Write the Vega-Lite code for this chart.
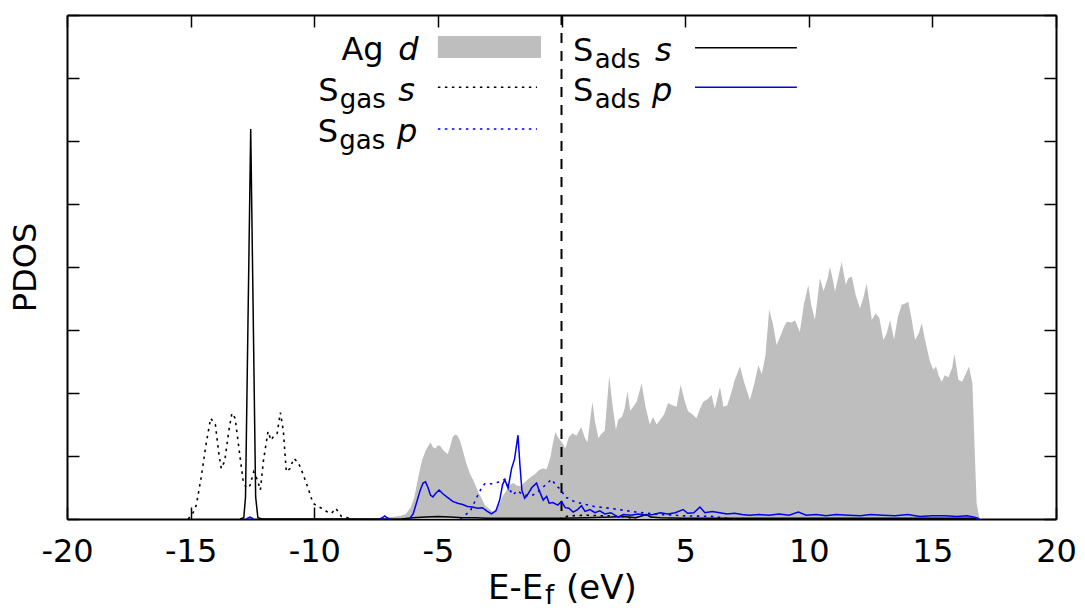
{
  "$schema": "https://vega.github.io/schema/vega-lite/v6.json",
  "width": 989,
  "height": 504,
  "autosize": {"type": "none"},
  "padding": {"left": 67, "top": 15, "right": 29, "bottom": 91},
  "config": {
    "view": {"stroke": null},
    "font": "DejaVu Sans",
    "text": {"font": "DejaVu Sans", "color": "black", "baseline": "alphabetic", "align": "left"}
  },
  "datasets": {
    "agd": [
      {"E": -7.4, "v": 0}, {"E": -7.1, "v": 0.02}, {"E": -6.9, "v": 0.03}, {"E": -6.7, "v": 0.04},
      {"E": -6.5, "v": 0.05}, {"E": -6.3, "v": 0.08}, {"E": -6.1, "v": 0.18}, {"E": -5.95, "v": 0.35},
      {"E": -5.8, "v": 0.65}, {"E": -5.65, "v": 0.92}, {"E": -5.5, "v": 1.08}, {"E": -5.4, "v": 1.15},
      {"E": -5.3, "v": 1.22}, {"E": -5.2, "v": 1.14}, {"E": -5.1, "v": 1.12}, {"E": -5.0, "v": 1.17},
      {"E": -4.9, "v": 1.16}, {"E": -4.8, "v": 1.1}, {"E": -4.7, "v": 1.06}, {"E": -4.6, "v": 1.03},
      {"E": -4.5, "v": 1.15}, {"E": -4.4, "v": 1.3}, {"E": -4.3, "v": 1.34}, {"E": -4.2, "v": 1.32},
      {"E": -4.1, "v": 1.24}, {"E": -4.0, "v": 1.1}, {"E": -3.85, "v": 0.88}, {"E": -3.7, "v": 0.72},
      {"E": -3.55, "v": 0.6}, {"E": -3.4, "v": 0.46}, {"E": -3.25, "v": 0.34}, {"E": -3.1, "v": 0.22},
      {"E": -2.95, "v": 0.17}, {"E": -2.8, "v": 0.12}, {"E": -2.65, "v": 0.16}, {"E": -2.5, "v": 0.25},
      {"E": -2.35, "v": 0.38}, {"E": -2.2, "v": 0.47}, {"E": -2.05, "v": 0.55}, {"E": -1.95, "v": 0.57},
      {"E": -1.8, "v": 0.53}, {"E": -1.65, "v": 0.52}, {"E": -1.5, "v": 0.58}, {"E": -1.35, "v": 0.63},
      {"E": -1.2, "v": 0.68}, {"E": -1.05, "v": 0.72}, {"E": -0.9, "v": 0.78}, {"E": -0.75, "v": 0.8},
      {"E": -0.6, "v": 0.79}, {"E": -0.45, "v": 0.98}, {"E": -0.35, "v": 1.2}, {"E": -0.25, "v": 1.38},
      {"E": -0.15, "v": 1.3}, {"E": -0.05, "v": 1.25}, {"E": 0.05, "v": 1.2}, {"E": 0.15, "v": 1.12},
      {"E": 0.3, "v": 1.3}, {"E": 0.45, "v": 1.36}, {"E": 0.6, "v": 1.32}, {"E": 0.8, "v": 1.46},
      {"E": 0.95, "v": 1.28}, {"E": 1.05, "v": 1.22}, {"E": 1.25, "v": 1.86}, {"E": 1.35, "v": 1.55},
      {"E": 1.5, "v": 1.28}, {"E": 1.6, "v": 1.35}, {"E": 1.75, "v": 1.4}, {"E": 1.93, "v": 2.27},
      {"E": 2.05, "v": 1.85}, {"E": 2.2, "v": 1.42}, {"E": 2.3, "v": 1.58}, {"E": 2.45, "v": 1.62},
      {"E": 2.55, "v": 1.75}, {"E": 2.67, "v": 2.03}, {"E": 2.78, "v": 1.72}, {"E": 2.9, "v": 1.78},
      {"E": 3.04, "v": 1.86}, {"E": 3.24, "v": 2.15}, {"E": 3.4, "v": 1.78}, {"E": 3.57, "v": 1.5},
      {"E": 3.7, "v": 1.62}, {"E": 3.85, "v": 1.5}, {"E": 4.0, "v": 1.58}, {"E": 4.15, "v": 1.66},
      {"E": 4.31, "v": 1.84}, {"E": 4.5, "v": 1.8}, {"E": 4.65, "v": 1.78}, {"E": 4.82, "v": 2.13},
      {"E": 5.0, "v": 1.85}, {"E": 5.12, "v": 1.71}, {"E": 5.3, "v": 1.66}, {"E": 5.46, "v": 1.6},
      {"E": 5.6, "v": 1.75}, {"E": 5.73, "v": 1.86}, {"E": 5.9, "v": 1.9}, {"E": 6.07, "v": 1.97},
      {"E": 6.2, "v": 1.75}, {"E": 6.41, "v": 2.1}, {"E": 6.55, "v": 1.78}, {"E": 6.7, "v": 1.8},
      {"E": 6.85, "v": 1.98}, {"E": 7.0, "v": 2.2}, {"E": 7.22, "v": 2.42}, {"E": 7.4, "v": 2.15},
      {"E": 7.62, "v": 1.89}, {"E": 7.8, "v": 2.15}, {"E": 7.96, "v": 2.44}, {"E": 8.1, "v": 2.3},
      {"E": 8.25, "v": 2.6}, {"E": 8.4, "v": 3.32}, {"E": 8.55, "v": 3.1}, {"E": 8.7, "v": 2.76},
      {"E": 8.85, "v": 2.9}, {"E": 9.0, "v": 3.05}, {"E": 9.11, "v": 3.13}, {"E": 9.3, "v": 3.12},
      {"E": 9.45, "v": 3.15}, {"E": 9.64, "v": 2.97}, {"E": 9.8, "v": 3.4}, {"E": 9.98, "v": 3.71},
      {"E": 10.1, "v": 3.4}, {"E": 10.25, "v": 3.16}, {"E": 10.45, "v": 3.82}, {"E": 10.6, "v": 3.62},
      {"E": 10.75, "v": 3.8}, {"E": 10.86, "v": 4.0}, {"E": 11.0, "v": 3.75}, {"E": 11.06, "v": 3.61},
      {"E": 11.2, "v": 3.85}, {"E": 11.33, "v": 4.08}, {"E": 11.5, "v": 3.72}, {"E": 11.6, "v": 3.82},
      {"E": 11.74, "v": 3.85}, {"E": 11.9, "v": 3.55}, {"E": 12.07, "v": 3.34}, {"E": 12.2, "v": 3.5},
      {"E": 12.34, "v": 3.74}, {"E": 12.45, "v": 3.45}, {"E": 12.55, "v": 3.16}, {"E": 12.7, "v": 3.26},
      {"E": 12.85, "v": 3.2}, {"E": 13.02, "v": 2.84}, {"E": 13.15, "v": 2.95}, {"E": 13.29, "v": 3.16},
      {"E": 13.45, "v": 2.85}, {"E": 13.6, "v": 3.2}, {"E": 13.76, "v": 3.4}, {"E": 13.9, "v": 3.42},
      {"E": 14.03, "v": 3.45}, {"E": 14.15, "v": 3.2}, {"E": 14.3, "v": 2.84}, {"E": 14.45, "v": 2.95},
      {"E": 14.57, "v": 3.11}, {"E": 14.7, "v": 2.85}, {"E": 14.77, "v": 2.73}, {"E": 14.9, "v": 2.5},
      {"E": 15.04, "v": 2.37}, {"E": 15.15, "v": 2.42}, {"E": 15.25, "v": 2.28}, {"E": 15.38, "v": 2.18},
      {"E": 15.5, "v": 2.28}, {"E": 15.65, "v": 2.25}, {"E": 15.8, "v": 2.4}, {"E": 15.89, "v": 2.62},
      {"E": 16.0, "v": 2.35}, {"E": 16.05, "v": 2.21}, {"E": 16.2, "v": 2.18}, {"E": 16.35, "v": 2.3},
      {"E": 16.48, "v": 2.42}, {"E": 16.62, "v": 2.15}, {"E": 16.72, "v": 1.0}, {"E": 16.79, "v": 0.25},
      {"E": 16.9, "v": 0.02}, {"E": 17.0, "v": 0}
    ],
    "sgas_s": [
      {"E": -15.1, "v": 0}, {"E": -14.9, "v": 0.1}, {"E": -14.77, "v": 0.22}, {"E": -14.57, "v": 0.67},
      {"E": -14.37, "v": 1.2}, {"E": -14.19, "v": 1.6}, {"E": -14.0, "v": 1.5}, {"E": -13.86, "v": 1.04},
      {"E": -13.76, "v": 0.8}, {"E": -13.62, "v": 0.92}, {"E": -13.45, "v": 1.41}, {"E": -13.33, "v": 1.68},
      {"E": -13.2, "v": 1.6}, {"E": -13.02, "v": 1.04}, {"E": -12.88, "v": 0.62}, {"E": -12.75, "v": 0.49},
      {"E": -12.6, "v": 0.53}, {"E": -12.45, "v": 0.75}, {"E": -12.3, "v": 0.62}, {"E": -12.18, "v": 0.46},
      {"E": -12.05, "v": 0.94}, {"E": -11.87, "v": 1.39}, {"E": -11.75, "v": 1.25}, {"E": -11.62, "v": 1.33},
      {"E": -11.5, "v": 1.36}, {"E": -11.37, "v": 1.69}, {"E": -11.25, "v": 1.4}, {"E": -11.13, "v": 0.75},
      {"E": -10.98, "v": 0.8}, {"E": -10.83, "v": 0.96}, {"E": -10.65, "v": 0.9}, {"E": -10.46, "v": 0.72},
      {"E": -10.25, "v": 0.49}, {"E": -10.05, "v": 0.25}, {"E": -9.9, "v": 0.21}, {"E": -9.7, "v": 0.17},
      {"E": -9.5, "v": 0.12}, {"E": -9.3, "v": 0.09}, {"E": -9.13, "v": 0.17}, {"E": -8.9, "v": 0.04},
      {"E": -8.65, "v": 0.02}, {"E": -8.4, "v": 0}, {"E": -8.3, "v": null}, {"E": -0.1, "v": 0}, {"E": 0.3, "v": 0.05},
      {"E": 1.0, "v": 0.06}, {"E": 1.8, "v": 0.05}, {"E": 2.5, "v": 0.04}, {"E": 3.0, "v": 0}
    ],
    "sgas_p": [
      {"E": -4.1, "v": 0}, {"E": -3.98, "v": 0.04}, {"E": -3.7, "v": 0.12}, {"E": -3.44, "v": 0.33},
      {"E": -3.24, "v": 0.49}, {"E": -3.1, "v": 0.56}, {"E": -2.8, "v": 0.56}, {"E": -2.5, "v": 0.59},
      {"E": -2.29, "v": 0.63}, {"E": -2.15, "v": 0.5}, {"E": -1.96, "v": 0.38}, {"E": -1.8, "v": 0.45},
      {"E": -1.6, "v": 0.4}, {"E": -1.4, "v": 0.37}, {"E": -1.15, "v": 0.38}, {"E": -0.9, "v": 0.45},
      {"E": -0.65, "v": 0.54}, {"E": -0.4, "v": 0.63}, {"E": -0.2, "v": 0.52}, {"E": 0.0, "v": 0.46},
      {"E": 0.13, "v": 0.35}, {"E": 0.27, "v": 0.33}, {"E": 0.5, "v": 0.28}, {"E": 0.88, "v": 0.24},
      {"E": 1.3, "v": 0.2}, {"E": 1.96, "v": 0.17}, {"E": 2.5, "v": 0.14}, {"E": 3.0, "v": 0.11},
      {"E": 3.5, "v": 0.09}, {"E": 4.11, "v": 0.07}, {"E": 5.0, "v": 0.05}, {"E": 6.14, "v": 0.04},
      {"E": 6.5, "v": 0.02}, {"E": 7.0, "v": 0}
    ],
    "sads_s": [
      {"E": -13.0, "v": 0}, {"E": -12.85, "v": 0.02}, {"E": -12.78, "v": 0.35}, {"E": -12.57, "v": 6.19},
      {"E": -12.37, "v": 0.35}, {"E": -12.28, "v": 0.02}, {"E": -12.1, "v": 0}, {"E": -6.5, "v": 0},
      {"E": -6.0, "v": 0.02}, {"E": -5.5, "v": 0.03}, {"E": -5.0, "v": 0.04}, {"E": -4.5, "v": 0.03},
      {"E": -4.0, "v": 0.02}, {"E": -3.5, "v": 0.02}, {"E": -3.0, "v": 0.01}, {"E": -2.0, "v": 0.01},
      {"E": -1.0, "v": 0.01}, {"E": 0.0, "v": 0.01}, {"E": 1.0, "v": 0.02}, {"E": 2.0, "v": 0.03},
      {"E": 2.5, "v": 0.04}, {"E": 3.0, "v": 0.02}, {"E": 3.44, "v": 0.07}, {"E": 3.6, "v": 0.03},
      {"E": 4.0, "v": 0.02}, {"E": 5.0, "v": 0.01}, {"E": 16.8, "v": 0.01}, {"E": 16.9, "v": 0}
    ],
    "sads_p": [
      {"E": -12.75, "v": 0}, {"E": -12.6, "v": 0.03}, {"E": -12.45, "v": 0}, {"E": -12.4, "v": null},
      {"E": -7.35, "v": 0}, {"E": -7.25, "v": 0.02}, {"E": -7.15, "v": 0.05}, {"E": -7.05, "v": 0.02}, {"E": -6.95, "v": 0},
      {"E": -6.9, "v": null},
      {"E": -6.15, "v": 0}, {"E": -6.0, "v": 0.08}, {"E": -5.87, "v": 0.25}, {"E": -5.72, "v": 0.45},
      {"E": -5.6, "v": 0.57}, {"E": -5.5, "v": 0.59}, {"E": -5.4, "v": 0.5}, {"E": -5.3, "v": 0.38},
      {"E": -5.2, "v": 0.35}, {"E": -5.1, "v": 0.4}, {"E": -4.95, "v": 0.46}, {"E": -4.8, "v": 0.4},
      {"E": -4.6, "v": 0.34}, {"E": -4.4, "v": 0.28}, {"E": -4.2, "v": 0.25}, {"E": -4.0, "v": 0.23},
      {"E": -3.8, "v": 0.2}, {"E": -3.6, "v": 0.19}, {"E": -3.4, "v": 0.17}, {"E": -3.2, "v": 0.18},
      {"E": -3.0, "v": 0.12}, {"E": -2.83, "v": 0.08}, {"E": -2.65, "v": 0.13}, {"E": -2.5, "v": 0.3},
      {"E": -2.38, "v": 0.55}, {"E": -2.29, "v": 0.62}, {"E": -2.16, "v": 0.49}, {"E": -2.02, "v": 0.8},
      {"E": -1.9, "v": 0.95}, {"E": -1.76, "v": 1.33}, {"E": -1.68, "v": 0.85}, {"E": -1.6, "v": 0.45},
      {"E": -1.49, "v": 0.33}, {"E": -1.35, "v": 0.4}, {"E": -1.2, "v": 0.5}, {"E": -1.01, "v": 0.57},
      {"E": -0.9, "v": 0.45}, {"E": -0.74, "v": 0.3}, {"E": -0.6, "v": 0.36}, {"E": -0.5, "v": 0.25},
      {"E": -0.35, "v": 0.26}, {"E": -0.15, "v": 0.22}, {"E": 0.0, "v": 0.28}, {"E": 0.15, "v": 0.18},
      {"E": 0.3, "v": 0.17}, {"E": 0.47, "v": 0.11}, {"E": 0.65, "v": 0.15}, {"E": 0.81, "v": 0.21},
      {"E": 0.95, "v": 0.12}, {"E": 1.15, "v": 0.15}, {"E": 1.35, "v": 0.1}, {"E": 1.55, "v": 0.13},
      {"E": 1.75, "v": 0.08}, {"E": 2.0, "v": 0.1}, {"E": 2.29, "v": 0.03}, {"E": 2.5, "v": 0.07},
      {"E": 2.8, "v": 0.06}, {"E": 3.1, "v": 0.08}, {"E": 3.44, "v": 0.06}, {"E": 3.7, "v": 0.07},
      {"E": 4.0, "v": 0.1}, {"E": 4.3, "v": 0.08}, {"E": 4.6, "v": 0.1}, {"E": 4.92, "v": 0.15},
      {"E": 5.1, "v": 0.09}, {"E": 5.35, "v": 0.1}, {"E": 5.6, "v": 0.19}, {"E": 5.8, "v": 0.1},
      {"E": 6.1, "v": 0.12}, {"E": 6.4, "v": 0.1}, {"E": 6.7, "v": 0.08}, {"E": 7.0, "v": 0.09},
      {"E": 7.3, "v": 0.07}, {"E": 7.6, "v": 0.06}, {"E": 8.0, "v": 0.07}, {"E": 8.4, "v": 0.06},
      {"E": 8.8, "v": 0.08}, {"E": 9.2, "v": 0.06}, {"E": 9.58, "v": 0.11}, {"E": 9.9, "v": 0.06},
      {"E": 10.3, "v": 0.07}, {"E": 10.7, "v": 0.05}, {"E": 11.1, "v": 0.07}, {"E": 11.6, "v": 0.06},
      {"E": 12.1, "v": 0.05}, {"E": 12.5, "v": 0.07}, {"E": 13.0, "v": 0.06}, {"E": 13.5, "v": 0.05},
      {"E": 14.0, "v": 0.07}, {"E": 14.5, "v": 0.04}, {"E": 15.0, "v": 0.05}, {"E": 15.5, "v": 0.05},
      {"E": 16.0, "v": 0.04}, {"E": 16.4, "v": 0.05}, {"E": 16.7, "v": 0.03}, {"E": 16.9, "v": 0}
    ],
    "fermi": [{"E": 0}],
    "txt_main": [
      {"t": "Ag", "E": -8.9, "v": 7.286},
      {"t": "S", "E": -9.84, "v": 6.635},
      {"t": "S", "E": -9.86, "v": 5.984},
      {"t": "S", "E": 0.47, "v": 7.27},
      {"t": "S", "E": 0.47, "v": 6.635}
    ],
    "txt_sub": [
      {"t": "gas", "E": -8.97, "v": 6.635},
      {"t": "gas", "E": -8.99, "v": 5.984},
      {"t": "ads", "E": 1.34, "v": 7.27},
      {"t": "ads", "E": 1.34, "v": 6.635}
    ],
    "txt_it": [
      {"t": "d", "E": -6.6, "v": 7.286},
      {"t": "s", "E": -6.6, "v": 6.635},
      {"t": "p", "E": -6.65, "v": 5.984},
      {"t": "s", "E": 3.78, "v": 7.27},
      {"t": "p", "E": 3.66, "v": 6.635}
    ],
    "title_main": [
      {"t": "E-E", "E": -2.97, "v": -1.27},
      {"t": "(eV)", "E": 0.18, "v": -1.27}
    ],
    "title_sub": [
      {"t": "f", "E": -0.67, "v": -1.27}
    ],
    "key_box": [{"E": -5.0, "E2": -0.83, "v": 7.667, "v2": 7.317}],
    "key_black_dot": [{"E": -5.0, "E2": -0.99, "v": 6.852}],
    "key_blue_dot": [{"E": -5.0, "E2": -0.99, "v": 6.19}],
    "key_black_solid": [{"E": 5.4, "E2": 9.52, "v": 7.481}],
    "key_blue_solid": [{"E": 5.4, "E2": 9.52, "v": 6.852}]
  },
  "encoding": {
    "x": {"field": "E", "type": "quantitative", "scale": {"domain": [-20, 20], "nice": false, "zero": false}, "axis": null}
  },
  "layer": [
    {
      "data": {"name": "agd"},
      "mark": {"type": "area", "color": "#bebebe"},
      "encoding": {
        "x": {"field": "E", "type": "quantitative", "scale": {"domain": [-20, 20], "nice": false, "zero": false},
          "axis": {"orient": "bottom", "values": [-20, -15, -10, -5, 0, 5, 10, 15, 20], "labelExpr": "datum.value + ''",
            "labelFont": "DejaVu Sans", "labelFontSize": 32, "labelColor": "black", "labelPadding": 29, "labelFlush": false, "labelOverlap": false,
            "tickSize": -12, "tickColor": "black", "tickWidth": 1.5, "domainColor": "black", "domainWidth": 2, "grid": false, "title": null, "zindex": 0}},
        "y": {"field": "v", "type": "quantitative", "scale": {"domain": [0, 8], "nice": false},
          "axis": {"orient": "left", "values": [0, 1, 2, 3, 4, 5, 6, 7, 8], "labels": false, "tickSize": -12, "tickColor": "black", "tickWidth": 1.5,
            "domainColor": "black", "domainWidth": 2, "grid": false, "title": "PDOS", "titleFont": "DejaVu Sans", "titleFontSize": 32,
            "titleFontWeight": "normal", "titleColor": "black", "titlePadding": 24, "zindex": 1}}
      }
    },
    {
      "data": {"name": "fermi"},
      "mark": {"type": "rule", "color": "black", "strokeWidth": 2, "strokeDash": [10, 8]},
      "encoding": {}
    },
    {
      "data": {"name": "sgas_s"},
      "mark": {"type": "line", "color": "black", "strokeWidth": 1.6, "strokeDash": [2.5, 4.5], "invalid": "break-paths-show-domains"},
      "encoding": {"y": {"field": "v", "type": "quantitative", "scale": {"domain": [0, 8], "nice": false}, "axis": null}}
    },
    {
      "data": {"name": "sgas_p"},
      "mark": {"type": "line", "color": "#0000ee", "strokeWidth": 1.6, "strokeDash": [2.5, 4.5]},
      "encoding": {"y": {"field": "v", "type": "quantitative", "scale": {"domain": [0, 8], "nice": false}, "axis": null}}
    },
    {
      "data": {"name": "sads_s"},
      "mark": {"type": "line", "color": "black", "strokeWidth": 1.5},
      "encoding": {
        "x": {"field": "E", "type": "quantitative", "scale": {"domain": [-20, 20], "nice": false, "zero": false},
          "axis": {"orient": "top", "values": [-20, -15, -10, -5, 0, 5, 10, 15, 20], "labels": false, "tickSize": -12, "tickColor": "black",
            "tickWidth": 1.5, "domainColor": "black", "domainWidth": 2, "grid": false, "title": null, "zindex": 1}},
        "y": {"field": "v", "type": "quantitative", "scale": {"domain": [0, 8], "nice": false},
          "axis": {"orient": "right", "values": [0, 1, 2, 3, 4, 5, 6, 7, 8], "labels": false, "tickSize": -12, "tickColor": "black",
            "tickWidth": 1.5, "domainColor": "black", "domainWidth": 2, "grid": false, "title": null, "zindex": 1}}
      }
    },
    {
      "data": {"name": "sads_p"},
      "mark": {"type": "line", "color": "#0000ee", "strokeWidth": 1.5, "invalid": "break-paths-show-domains"},
      "encoding": {"y": {"field": "v", "type": "quantitative", "scale": {"domain": [0, 8], "nice": false}, "axis": null}}
    },
    {
      "data": {"name": "key_box"},
      "mark": {"type": "rect", "color": "#bebebe"},
      "encoding": {
        "x2": {"field": "E2"},
        "y": {"field": "v", "type": "quantitative", "scale": {"domain": [0, 8], "nice": false}, "axis": null},
        "y2": {"field": "v2"}
      }
    },
    {
      "data": {"name": "key_black_dot"},
      "mark": {"type": "rule", "color": "black", "strokeWidth": 1.6, "strokeDash": [2.5, 4.5]},
      "encoding": {"x2": {"field": "E2"}, "y": {"field": "v", "type": "quantitative", "scale": {"domain": [0, 8], "nice": false}, "axis": null}}
    },
    {
      "data": {"name": "key_blue_dot"},
      "mark": {"type": "rule", "color": "#0000ee", "strokeWidth": 1.6, "strokeDash": [2.5, 4.5]},
      "encoding": {"x2": {"field": "E2"}, "y": {"field": "v", "type": "quantitative", "scale": {"domain": [0, 8], "nice": false}, "axis": null}}
    },
    {
      "data": {"name": "key_black_solid"},
      "mark": {"type": "rule", "color": "black", "strokeWidth": 1.5},
      "encoding": {"x2": {"field": "E2"}, "y": {"field": "v", "type": "quantitative", "scale": {"domain": [0, 8], "nice": false}, "axis": null}}
    },
    {
      "data": {"name": "key_blue_solid"},
      "mark": {"type": "rule", "color": "#0000ee", "strokeWidth": 1.5},
      "encoding": {"x2": {"field": "E2"}, "y": {"field": "v", "type": "quantitative", "scale": {"domain": [0, 8], "nice": false}, "axis": null}}
    },
    {
      "data": {"name": "txt_main"},
      "mark": {"type": "text", "fontSize": 32, "align": "left", "baseline": "alphabetic", "font": "DejaVu Sans"},
      "encoding": {"text": {"field": "t"}, "y": {"field": "v", "type": "quantitative", "scale": {"domain": [0, 8], "nice": false}, "axis": null}}
    },
    {
      "data": {"name": "txt_sub"},
      "mark": {"type": "text", "fontSize": 26, "dy": 7, "align": "left", "baseline": "alphabetic", "font": "DejaVu Sans"},
      "encoding": {"text": {"field": "t"}, "y": {"field": "v", "type": "quantitative", "scale": {"domain": [0, 8], "nice": false}, "axis": null}}
    },
    {
      "data": {"name": "txt_it"},
      "mark": {"type": "text", "fontSize": 32, "fontStyle": "italic", "align": "left", "baseline": "alphabetic", "font": "DejaVu Sans"},
      "encoding": {"text": {"field": "t"}, "y": {"field": "v", "type": "quantitative", "scale": {"domain": [0, 8], "nice": false}, "axis": null}}
    },
    {
      "data": {"name": "title_main"},
      "mark": {"type": "text", "fontSize": 34, "align": "left", "baseline": "alphabetic", "font": "DejaVu Sans"},
      "encoding": {"text": {"field": "t"}, "y": {"field": "v", "type": "quantitative", "scale": {"domain": [0, 8], "nice": false}, "axis": null}}
    },
    {
      "data": {"name": "title_sub"},
      "mark": {"type": "text", "fontSize": 26, "dy": 5, "align": "left", "baseline": "alphabetic", "font": "DejaVu Sans"},
      "encoding": {"text": {"field": "t"}, "y": {"field": "v", "type": "quantitative", "scale": {"domain": [0, 8], "nice": false}, "axis": null}}
    }
  ],
  "resolve": {"axis": {"x": "independent", "y": "independent"}}
}
